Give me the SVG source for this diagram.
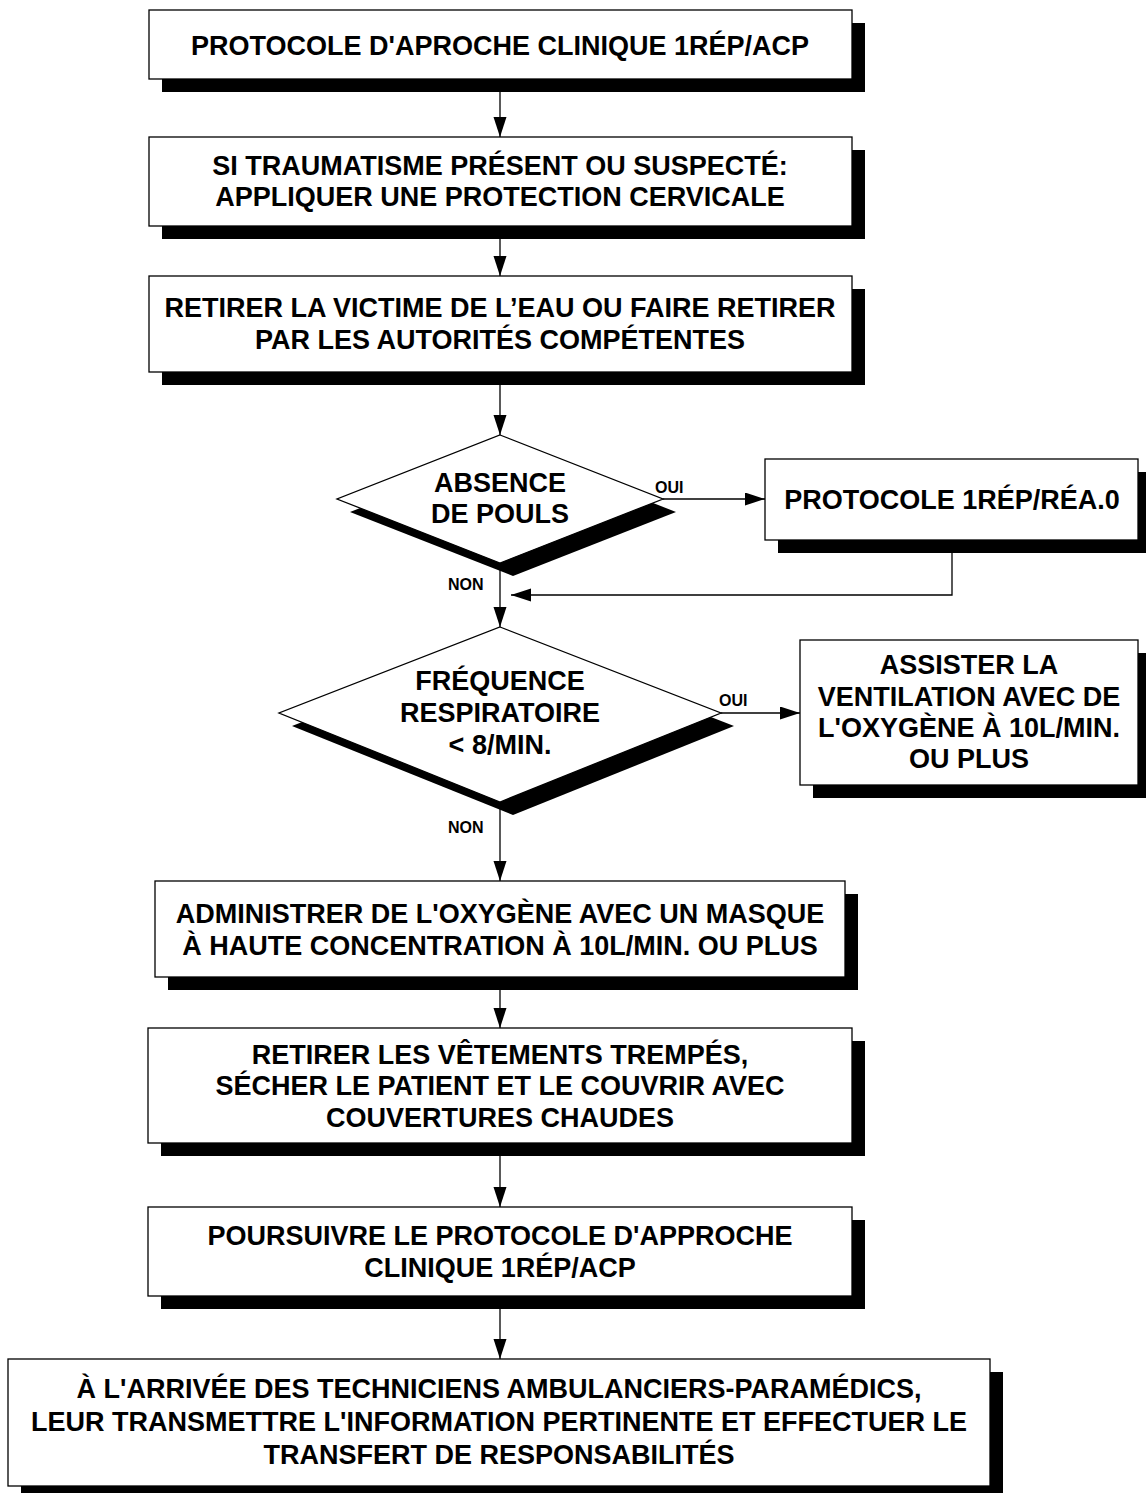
<svg xmlns="http://www.w3.org/2000/svg" width="1146" height="1493" viewBox="0 0 1146 1493">
  <defs>
    <style>
      .box { fill: #ffffff; stroke: #000000; stroke-width: 1.3; }
      .shadow { fill: #000000; stroke: none; }
      .t { font-family: "Liberation Sans", Arial, sans-serif; font-weight: bold; font-size: 27px; text-anchor: middle; fill: #000000; }
      .lbl { font-family: "Liberation Sans", Arial, sans-serif; font-weight: bold; font-size: 16px; fill: #000000; }
      .wire { stroke: #000000; stroke-width: 1.3; fill: none; }
    </style>
    <marker id="arrow" markerUnits="userSpaceOnUse" markerWidth="21" markerHeight="14" refX="20" refY="6.5" orient="auto">
      <path d="M0,0 L20,6.5 L0,13 Z" fill="#000000"/>
    </marker>
  </defs>

  <rect width="1146" height="1493" fill="#ffffff"/>

  <!-- start -->
  <g id="n-start">
    <rect class="shadow" x="162" y="23" width="703" height="69"/>
    <rect class="box" x="149" y="10" width="703" height="69"/>
    <text class="t" x="500" y="55">PROTOCOLE D'APROCHE CLINIQUE 1RÉP/ACP</text>
  </g>

  <g id="n-cervical">
    <rect class="shadow" x="162" y="150" width="703" height="89"/>
    <rect class="box" x="149" y="137" width="703" height="89"/>
    <text class="t" x="500" y="175">SI TRAUMATISME PRÉSENT OU SUSPECTÉ:</text>
    <text class="t" x="500" y="206">APPLIQUER UNE PROTECTION CERVICALE</text>
  </g>

  <g id="n-water">
    <rect class="shadow" x="162" y="289" width="703" height="96"/>
    <rect class="box" x="149" y="276" width="703" height="96"/>
    <text class="t" x="500" y="317">RETIRER LA VICTIME DE L’EAU OU FAIRE RETIRER</text>
    <text class="t" x="500" y="349">PAR LES AUTORITÉS COMPÉTENTES</text>
  </g>

  <!-- decision: pulse -->
  <g id="d-pulse">
    <polygon class="shadow" points="513,448 676,512 513,576 350,512"/>
    <polygon class="box" points="500,435 663,499 500,563 337,499"/>
    <text class="t" x="500" y="492">ABSENCE</text>
    <text class="t" x="500" y="523">DE POULS</text>
  </g>

  <g id="n-rea">
    <rect class="shadow" x="778" y="472" width="373" height="81"/>
    <rect class="box" x="765" y="459" width="373" height="81"/>
    <text class="t" x="952" y="509">PROTOCOLE 1RÉP/RÉA.0</text>
  </g>

  <!-- decision: respiratory rate -->
  <g id="d-resp">
    <polygon class="shadow" points="513,640 734,726 513,815 292,726"/>
    <polygon class="box" points="500,627 721,713 500,802 279,713"/>
    <text class="t" x="500" y="690">FRÉQUENCE</text>
    <text class="t" x="500" y="722">RESPIRATOIRE</text>
    <text class="t" x="500" y="754">&lt; 8/MIN.</text>
  </g>

  <g id="n-assist">
    <rect class="shadow" x="813" y="653" width="338" height="145"/>
    <rect class="box" x="800" y="640" width="338" height="145"/>
    <text class="t" x="969" y="674">ASSISTER LA</text>
    <text class="t" x="969" y="706">VENTILATION AVEC DE</text>
    <text class="t" x="969" y="737">L'OXYGÈNE À 10L/MIN.</text>
    <text class="t" x="969" y="768">OU PLUS</text>
  </g>

  <g id="n-oxygen">
    <rect class="shadow" x="168" y="894" width="690" height="96"/>
    <rect class="box" x="155" y="881" width="690" height="96"/>
    <text class="t" x="500" y="923">ADMINISTRER DE L'OXYGÈNE AVEC UN MASQUE</text>
    <text class="t" x="500" y="955">À HAUTE CONCENTRATION À 10L/MIN. OU PLUS</text>
  </g>

  <g id="n-dry">
    <rect class="shadow" x="161" y="1041" width="704" height="115"/>
    <rect class="box" x="148" y="1028" width="704" height="115"/>
    <text class="t" x="500" y="1064">RETIRER LES VÊTEMENTS TREMPÉS,</text>
    <text class="t" x="500" y="1095">SÉCHER LE PATIENT ET LE COUVRIR AVEC</text>
    <text class="t" x="500" y="1127">COUVERTURES CHAUDES</text>
  </g>

  <g id="n-continue">
    <rect class="shadow" x="161" y="1220" width="704" height="89"/>
    <rect class="box" x="148" y="1207" width="704" height="89"/>
    <text class="t" x="500" y="1245">POURSUIVRE LE PROTOCOLE D'APPROCHE</text>
    <text class="t" x="500" y="1277">CLINIQUE 1RÉP/ACP</text>
  </g>

  <g id="n-handover">
    <rect class="shadow" x="21" y="1372" width="982" height="127"/>
    <rect class="box" x="8" y="1359" width="982" height="127"/>
    <text class="t" x="499" y="1398">À L'ARRIVÉE DES TECHNICIENS AMBULANCIERS-PARAMÉDICS,</text>
    <text class="t" x="499" y="1431">LEUR TRANSMETTRE L'INFORMATION PERTINENTE ET EFFECTUER LE</text>
    <text class="t" x="499" y="1464">TRANSFERT DE RESPONSABILITÉS</text>
  </g>

  <!-- connectors -->
  <g id="connectors">
    <path class="wire" d="M500,79 V137" marker-end="url(#arrow)"/>
    <path class="wire" d="M500,226 V276" marker-end="url(#arrow)"/>
    <path class="wire" d="M500,372 V435" marker-end="url(#arrow)"/>
    <path class="wire" d="M663,499 H765" marker-end="url(#arrow)"/>
    <path class="wire" d="M500,563 V627" marker-end="url(#arrow)"/>
    <path class="wire" d="M952,553 V595 H511" marker-end="url(#arrow)"/>
    <path class="wire" d="M721,713 H800" marker-end="url(#arrow)"/>
    <path class="wire" d="M500,802 V881" marker-end="url(#arrow)"/>
    <path class="wire" d="M500,977 V1028" marker-end="url(#arrow)"/>
    <path class="wire" d="M500,1143 V1207" marker-end="url(#arrow)"/>
    <path class="wire" d="M500,1296 V1359" marker-end="url(#arrow)"/>
    <text class="lbl" x="655" y="493">OUI</text>
    <text class="lbl" x="448" y="590">NON</text>
    <text class="lbl" x="719" y="706">OUI</text>
    <text class="lbl" x="448" y="833">NON</text>
  </g>
</svg>
